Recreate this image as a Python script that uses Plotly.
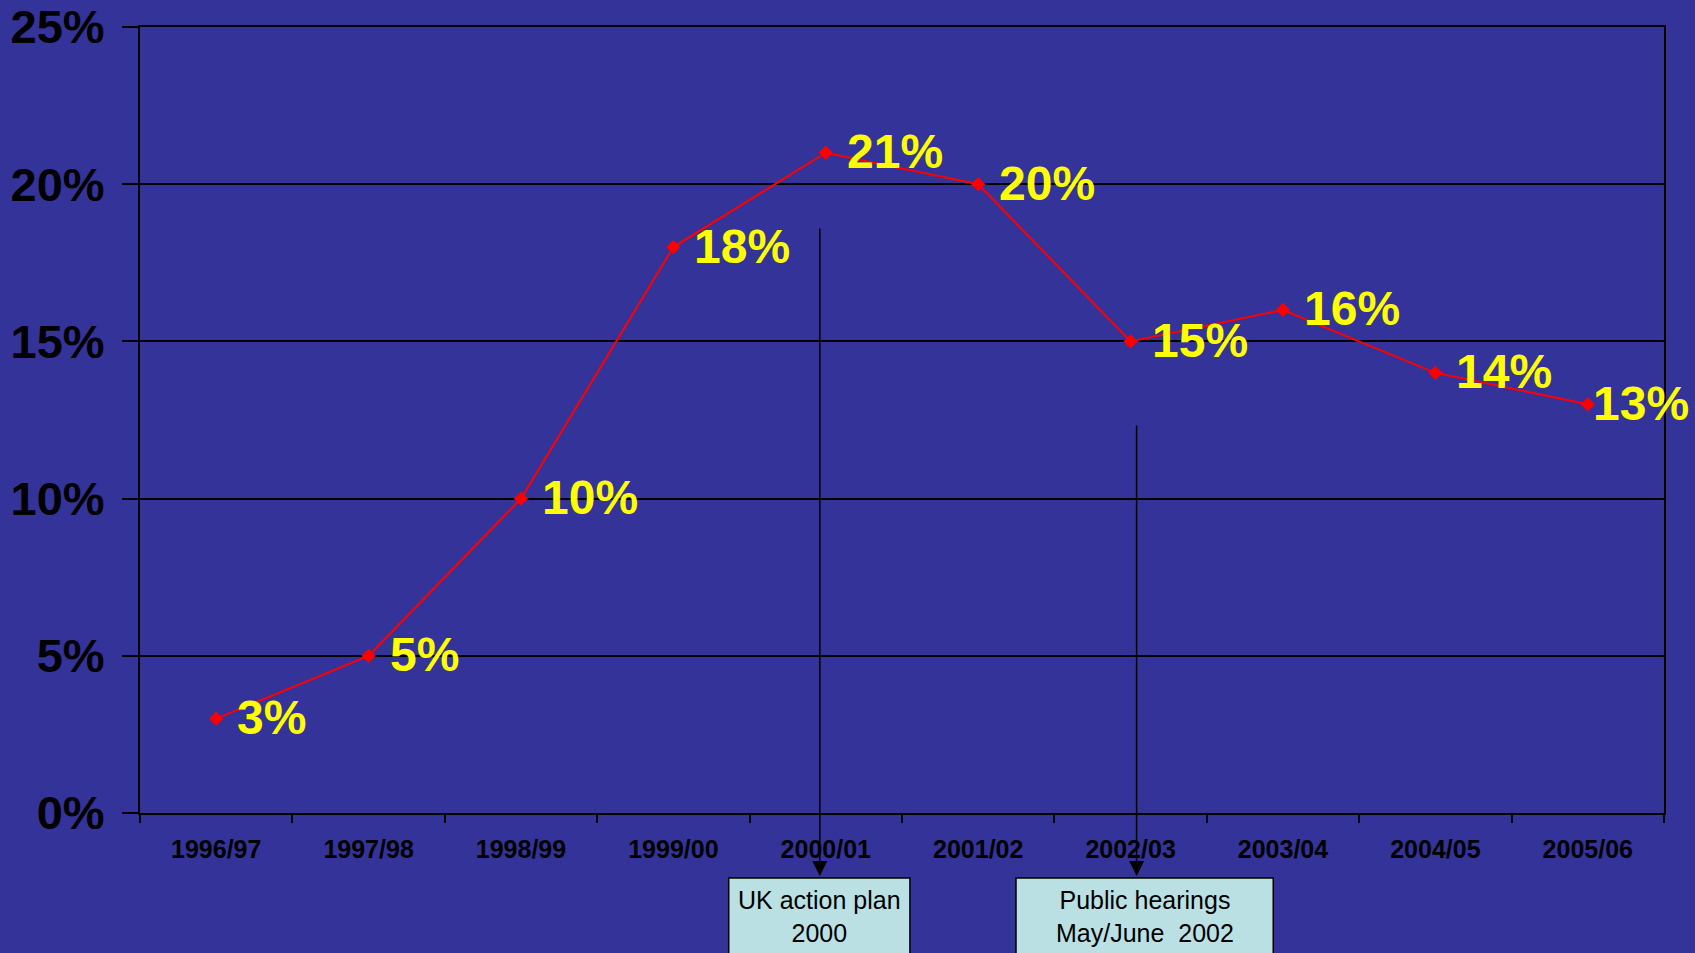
import plotly.graph_objects as go

years = ["1996/97", "1997/98", "1998/99", "1999/00", "2000/01",
         "2001/02", "2002/03", "2003/04", "2004/05", "2005/06"]
values = [0.03, 0.05, 0.10, 0.18, 0.21, 0.20, 0.15, 0.16, 0.14, 0.13]
point_labels = ["3%", "5%", "10%", "18%", "21%", "20%", "15%", "16%", "14%", "13%"]

events = ["UK action plan<br>2000", "Public hearings<br>May/June  2002"]
event_years = ["2000/01", "2002/03"]

BG = "#333399"
FONT = "Liberation Sans, Arial, sans-serif"

fig = go.Figure()
fig.add_trace(go.Scatter(
    x=years, y=values, mode="lines+markers",
    line=dict(color="#FF0000", width=2),
    marker=dict(symbol="diamond", size=11, color="#FF0000"),
    hoverinfo="skip",
))

annotations = []
n = len(years)
for i, (yr, v, lab) in enumerate(zip(years, values, point_labels)):
    annotations.append(dict(
        x=yr, y=v, xref="x", yref="y", text=lab, showarrow=False,
        xanchor="left", yanchor="middle",
        xshift=3 if i == n - 1 else 19, yshift=1,
        font=dict(family=FONT, size=48, color="#FFFF00", weight="bold"),
    ))

# arrows from inside the plot down to the event boxes
arrow_specs = [(event_years[0], -6, -649), (event_years[1], 6, -452)]
for yr, xs, ay in arrow_specs:
    annotations.append(dict(
        x=yr, y=-0.080, xref="x", yref="paper", text="", showarrow=True,
        ax=0, ay=ay, axref="pixel", ayref="pixel", xshift=xs,
        arrowhead=2, arrowsize=2.0, arrowwidth=1.5, arrowcolor="#000000",
    ))

shapes = []
box_x = [(0.3863, 0.5052), (0.5748, 0.7436)]
for (x0, x1), txt in zip(box_x, events):
    shapes.append(dict(type="rect", xref="paper", yref="paper",
                       x0=x0, x1=x1, y0=-0.25, y1=-0.0827,
                       fillcolor="#BAE0E4", line=dict(color="#000000", width=1.5),
                       layer="above"))
    annotations.append(dict(
        x=(x0 + x1) / 2, y=-0.0827, xref="paper", yref="paper",
        text=txt, showarrow=False, xanchor="center", yanchor="top", yshift=-6,
        font=dict(family=FONT, size=25, color="#000000"),
    ))

fig.update_layout(
    width=1695, height=953,
    margin=dict(l=140, r=31, t=27, b=140, autoexpand=False),
    paper_bgcolor=BG, plot_bgcolor=BG,
    showlegend=False,
    annotations=annotations,
    shapes=shapes,
    xaxis=dict(
        type="category", range=[-0.5, len(years) - 0.5], automargin=False,
        tickson="boundaries", ticks="outside", ticklen=8,
        tickwidth=2, tickcolor="#000000", showgrid=False,
        showline=True, linecolor="#000000", linewidth=2, mirror=True,
        tickfont=dict(family=FONT, size=25, color="#000000", weight="bold"),
        ticklabelstandoff=13,
    ),
    yaxis=dict(
        range=[0, 0.25], dtick=0.05, tickformat=".0%", automargin=False,
        ticks="outside", ticklen=16, tickwidth=2, tickcolor="#000000",
        showgrid=True, gridcolor="#000000", gridwidth=2,
        showline=True, linecolor="#000000", linewidth=2, mirror=True,
        zeroline=False,
        tickfont=dict(family=FONT, size=47, color="#000000", weight="bold"),
        ticklabelstandoff=8,
    ),
)

fig.write_html(
    "out.html",
    config={"displayModeBar": False},
    post_script="document.body.style.margin='0';document.body.style.background='" + BG + "';",
)
